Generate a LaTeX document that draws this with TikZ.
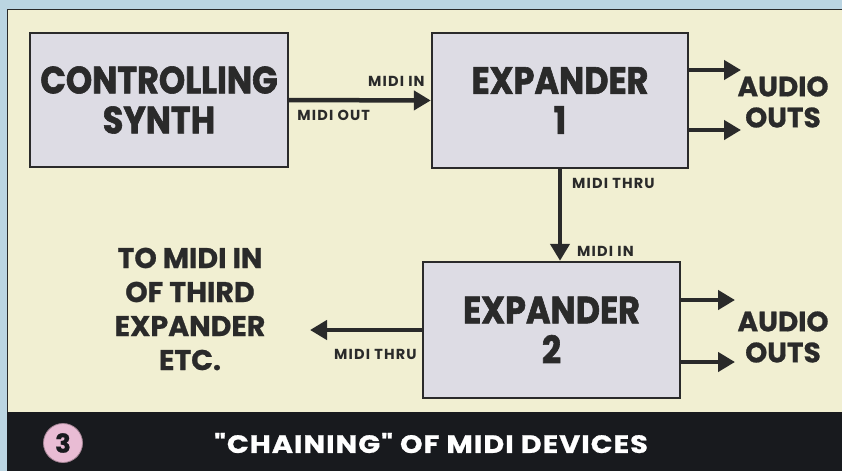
\documentclass[tikz,border=0pt]{standalone}
\usepackage{fontspec}
\setsansfont{Poppins}[BoldFeatures={FakeBold=0.8}]
\newfontfamily\heavyfont{Poppins}[FakeStretch=0.88, BoldFeatures={FakeBold=1.6}]
\newfontfamily\tagfont{Poppins}[LetterSpace=8]
\newfontfamily\titlefont{Poppins}[FakeStretch=1.15, LetterSpace=4, BoldFeatures={FakeBold=1}]
\usetikzlibrary{arrows.meta,positioning}

\definecolor{paper}{HTML}{F1EFD2}
\definecolor{boxgrey}{HTML}{DDDCE4}
\definecolor{frameblue}{HTML}{BBD5E2}
\definecolor{ink}{HTML}{2A2A2A}
\definecolor{band}{HTML}{181A1E}
\definecolor{badge}{HTML}{E9BCD4}

\tikzset{
  unit/.style={draw=ink, line width=2.4pt, fill=boxgrey, inner sep=0pt,
    align=center, text=ink, font=\heavyfont\bfseries\fontsize{38}{40}\selectfont},
  link/.style={draw=ink, line width=4.5pt, -{Triangle[length=17pt,width=19pt]}},
  tag/.style={inner sep=0pt, text=ink, font=\tagfont\bfseries\fontsize{14.5}{14.5}\selectfont},
  note/.style={inner sep=0pt, align=center, text=ink, font=\sffamily\bfseries\fontsize{28}{31}\selectfont}
}

\begin{document}
\begin{tikzpicture}[x=1pt, y=-1pt]
  % frame and paper
  \fill[frameblue] (0,0) rectangle (842,471);
  \useasboundingbox (0,0) rectangle (842,471);
  \fill[paper] (7,9) rectangle (842,412);
  \draw[ink, line width=1.5pt] (842,9.5) -- (7.5,9.5) -- (7.5,471);
  \fill[band] (7,412) rectangle (842,471);

  % devices
  \node[unit, minimum width=258pt, minimum height=134pt] (synth) at (159,100) {CONTROLLING\\SYNTH};
  \node[unit, minimum width=256pt, minimum height=135pt] (exp1) at (560,100.5) {EXPANDER\\1};
  \node[unit, minimum width=257pt, minimum height=136pt] (exp2) at (551.5,330) {EXPANDER\\2};

  % free ends
  \coordinate (out1a) at (741,70);
  \coordinate (out1b) at (741,130);
  \coordinate (out2a) at (735,300);
  \coordinate (out2b) at (735,362);
  \coordinate (thruout) at (310,328);
  \coordinate (thruin) at (exp1.south |- exp2.north);

  % midi links
  \draw[link] (synth.east) -- (exp1.west);
  \draw[link] (exp1.south) -- (thruin);
  \draw[link] (exp2.west) -- (exp2.west -| thruout);
  \node[tag, above left=14pt and 6pt of exp1.west] (inlabel1) {MIDI IN};
  \node[tag, below right=10pt and 8pt of synth.east] (outlabel) {MIDI OUT};
  \node[tag, below right=9pt and 12pt of exp1.south] (thrulabel1) {MIDI THRU};
  \node[tag, above right=4pt and 17pt of thruin] (inlabel2) {MIDI IN};
  \node[tag, below left=19pt and 5pt of exp2.west] (thrulabel2) {MIDI THRU};

  % audio outs
  \draw[link] (exp1.east |- out1a) -- (out1a);
  \draw[link] (exp1.east |- out1b) -- (out1b);
  \draw[link] (exp2.east |- out2a) -- (out2a);
  \draw[link] (exp2.east |- out2b) -- (out2b);
  \node[note] (audio1) at (783,102) {AUDIO\\OUTS};
  \node[note] (audio2) at (783,337) {AUDIO\\OUTS};
  \node[note, font=\sffamily\bfseries\fontsize{28.5}{34}\selectfont] (next) at (190,309) {TO MIDI IN\\OF THIRD\\EXPANDER\\ETC.};

  % caption
  \node[circle, fill=badge, draw=badge!70!black, line width=0.8pt, minimum size=39pt, inner sep=0pt, text=band,
    font=\sffamily\bfseries\fontsize{26}{26}\selectfont] (badge) at (63,443) {3};
  \node[text=white, inner sep=0pt, font=\titlefont\bfseries\fontsize{25}{25}\selectfont] (title) at (431,443) {\symbol{34}CHAINING\symbol{34} OF MIDI DEVICES};
\end{tikzpicture}
\end{document}
